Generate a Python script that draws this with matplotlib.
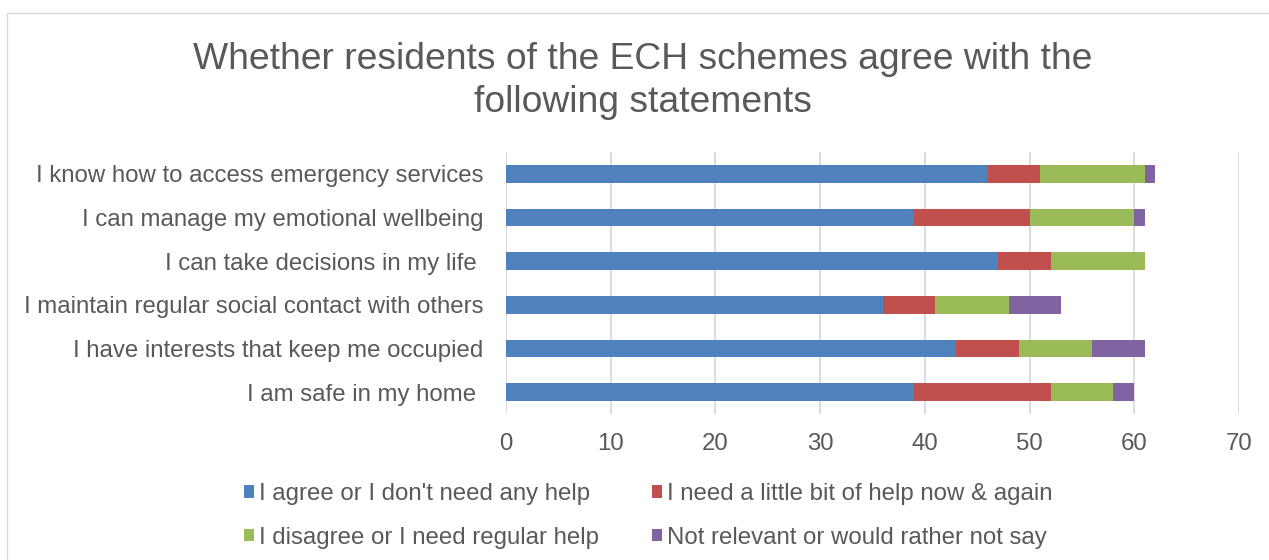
import matplotlib
matplotlib.use("Agg")
import matplotlib.pyplot as plt
from matplotlib.patches import Rectangle
import numpy as np

categories = [
    "I know how to access emergency services",
    "I can manage my emotional wellbeing",
    "I can take decisions in my life ",
    "I maintain regular social contact with others",
    "I have interests that keep me occupied",
    "I am safe in my home ",
]
series_names = [
    "I agree or I don't need any help",
    "I need a little bit of help now & again",
    "I disagree or I need regular help",
    "Not relevant or would rather not say",
]
agree = [46, 39, 47, 36, 43, 39]
little_help = [5, 11, 5, 5, 6, 13]
regular_help = [10, 10, 9, 7, 7, 6]
not_relevant = [1, 1, 0, 5, 5, 2]
xticks = [0, 10, 20, 30, 40, 50, 60, 70]
title = "Whether residents of the ECH schemes agree with the\nfollowing statements"

colors = ["#4F81BD", "#C0504D", "#9BBB59", "#8064A2"]
text_color = "#595959"
fs = 17.3

plt.rcParams["font.family"] = ["Liberation Sans", "DejaVu Sans"]

W, H = 1269, 560
fig = plt.figure(figsize=(W / 100, H / 100), dpi=100)
fig.patches.append(Rectangle((7 / W, -0.1), 1.2, 1 - 13 / H + 0.1,
                             transform=fig.transFigure, fill=False,
                             edgecolor="#D9D9D9", linewidth=1.0))

ax = fig.add_axes([506 / W, 1 - 414 / H, (1239 - 506) / W, (414 - 152) / H])

y = np.arange(len(categories))
left = np.zeros(len(categories))
handles = []
for vals, name, c in zip([agree, little_help, regular_help, not_relevant],
                         series_names, colors):
    h = ax.barh(y, vals, left=left, height=0.4, color=c, label=name, zorder=3)
    handles.append(h)
    left += np.array(vals)

ax.set_ylim(len(categories) - 0.5, -0.5)
ax.set_yticks(y)
ax.set_yticklabels(categories, fontsize=fs, color=text_color)
ax.set_xlim(0, 70)
ax.set_xticks(xticks)
ax.set_xticklabels([str(t) for t in xticks], fontsize=fs, color=text_color)
ax.tick_params(axis="both", length=0)
ax.tick_params(axis="x", pad=13.5)
ax.tick_params(axis="y", pad=16.5)
ax.grid(axis="x", color="#D9D9D9", linewidth=1.3, zorder=0)
for s in ax.spines.values():
    s.set_visible(False)

fig.text(643 / W, 1 - 81 / H, title, ha="center", va="center",
         fontsize=26.8, color=text_color, linespacing=1.27)

# legend reads row by row: agree, little help / disagree, not relevant
order = [0, 2, 1, 3]
fig.legend([handles[i] for i in order], [series_names[i] for i in order],
           loc="center", bbox_to_anchor=(648 / W, 1 - 516 / H),
           ncol=2, frameon=False, fontsize=fs, labelcolor=text_color,
           handlelength=0.42, handleheight=0.42, handletextpad=0.2,
           columnspacing=2.2, labelspacing=0.9, borderpad=0)

fig.savefig("out.png", dpi=100)
